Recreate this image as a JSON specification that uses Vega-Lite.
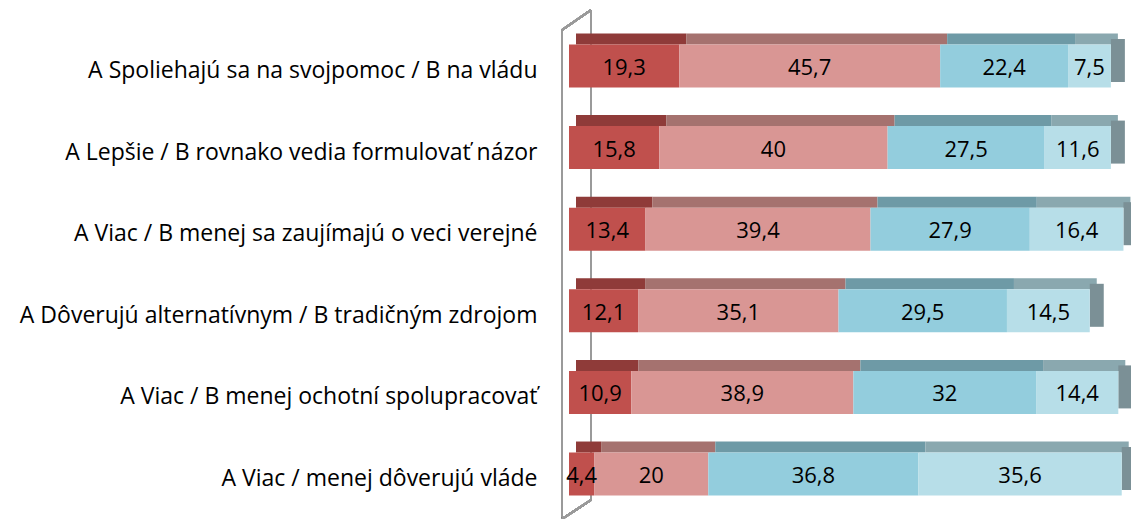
{
  "$schema": "https://vega.github.io/schema/vega-lite/v6.json",
  "autosize": "none",
  "padding": {"left": 569, "top": 20, "right": 0, "bottom": 0},
  "width": 571,
  "height": 500,
  "background": "white",
  "config": {
    "view": {"stroke": null},
    "locale": {"number": {"decimal": ",", "thousands": " ", "grouping": [3], "currency": ["", " €"]}},
    "font": "Open Sans"
  },
  "data": {"values": [
    {"cat": "A Spoliehajú sa na svojpomoc / B na vládu", "seg": 1, "value": 19.3},
    {"cat": "A Spoliehajú sa na svojpomoc / B na vládu", "seg": 2, "value": 45.7},
    {"cat": "A Spoliehajú sa na svojpomoc / B na vládu", "seg": 3, "value": 22.4},
    {"cat": "A Spoliehajú sa na svojpomoc / B na vládu", "seg": 4, "value": 7.5},
    {"cat": "A Lepšie / B rovnako vedia formulovať názor", "seg": 1, "value": 15.8},
    {"cat": "A Lepšie / B rovnako vedia formulovať názor", "seg": 2, "value": 40},
    {"cat": "A Lepšie / B rovnako vedia formulovať názor", "seg": 3, "value": 27.5},
    {"cat": "A Lepšie / B rovnako vedia formulovať názor", "seg": 4, "value": 11.6},
    {"cat": "A Viac / B menej sa zaujímajú o veci verejné", "seg": 1, "value": 13.4},
    {"cat": "A Viac / B menej sa zaujímajú o veci verejné", "seg": 2, "value": 39.4},
    {"cat": "A Viac / B menej sa zaujímajú o veci verejné", "seg": 3, "value": 27.9},
    {"cat": "A Viac / B menej sa zaujímajú o veci verejné", "seg": 4, "value": 16.4},
    {"cat": "A Dôverujú alternatívnym / B tradičným zdrojom", "seg": 1, "value": 12.1},
    {"cat": "A Dôverujú alternatívnym / B tradičným zdrojom", "seg": 2, "value": 35.1},
    {"cat": "A Dôverujú alternatívnym / B tradičným zdrojom", "seg": 3, "value": 29.5},
    {"cat": "A Dôverujú alternatívnym / B tradičným zdrojom", "seg": 4, "value": 14.5},
    {"cat": "A Viac / B menej ochotní spolupracovať", "seg": 1, "value": 10.9},
    {"cat": "A Viac / B menej ochotní spolupracovať", "seg": 2, "value": 38.9},
    {"cat": "A Viac / B menej ochotní spolupracovať", "seg": 3, "value": 32},
    {"cat": "A Viac / B menej ochotní spolupracovať", "seg": 4, "value": 14.4},
    {"cat": "A Viac / menej dôverujú vláde", "seg": 1, "value": 4.4},
    {"cat": "A Viac / menej dôverujú vláde", "seg": 2, "value": 20},
    {"cat": "A Viac / menej dôverujú vláde", "seg": 3, "value": 36.8},
    {"cat": "A Viac / menej dôverujú vláde", "seg": 4, "value": 35.6}
  ]},
  "transform": [
    {"stack": "value", "groupby": ["cat"], "sort": [{"field": "seg", "order": "ascending"}], "as": ["x0", "x1"]},
    {"calculate": "(datum.x0 + datum.x1) / 2", "as": "mid"}
  ],
  "encoding": {
    "y": {
      "field": "cat", "type": "nominal", "sort": null,
      "scale": {
        "domain": [
          "A Spoliehajú sa na svojpomoc / B na vládu",
          "A Lepšie / B rovnako vedia formulovať názor",
          "A Viac / B menej sa zaujímajú o veci verejné",
          "A Dôverujú alternatívnym / B tradičným zdrojom",
          "A Viac / B menej ochotní spolupracovať",
          "A Viac / menej dôverujú vláde"
        ],
        "paddingInner": 0.473, "paddingOuter": 0.3
      },
      "axis": {"title": null, "ticks": false, "domain": false, "labelFontSize": 23, "labelColor": "#000000", "labelPadding": 32, "labelLimit": 600, "labelFont": "Open Sans", "labelOffset": 5}
    }
  },
  "layer": [
    {
      "mark": {"type": "rule", "color": "#9a9a9a", "strokeWidth": 2, "xOffset": -7, "yOffset": -36, "y2Offset": 46},
      "encoding": {
        "x": {"datum": 0, "type": "quantitative", "scale": {"domain": [0, 100], "nice": false}, "axis": null},
        "y": {"datum": "A Spoliehajú sa na svojpomoc / B na vládu", "type": "nominal"},
        "y2": {"datum": "A Viac / menej dôverujú vláde"}
      }
    },
    {
      "mark": {"type": "rule", "color": "#9a9a9a", "strokeWidth": 2, "xOffset": 22, "yOffset": -56, "y2Offset": 26},
      "encoding": {
        "x": {"datum": 0, "type": "quantitative"},
        "y": {"datum": "A Spoliehajú sa na svojpomoc / B na vládu", "type": "nominal"},
        "y2": {"datum": "A Viac / menej dôverujú vláde"}
      }
    },
    {
      "mark": {"type": "rule", "color": "#9a9a9a", "strokeWidth": 2, "xOffset": -7, "x2Offset": 22, "yOffset": -36, "y2Offset": -56},
      "encoding": {
        "x": {"datum": 0, "type": "quantitative"}, "x2": {"datum": 0},
        "y": {"datum": "A Spoliehajú sa na svojpomoc / B na vládu", "type": "nominal"},
        "y2": {"datum": "A Spoliehajú sa na svojpomoc / B na vládu"}
      }
    },
    {
      "mark": {"type": "rule", "color": "#9a9a9a", "strokeWidth": 2, "xOffset": 22, "x2Offset": -7, "yOffset": 26, "y2Offset": 45},
      "encoding": {
        "x": {"datum": 0, "type": "quantitative"}, "x2": {"datum": 0},
        "y": {"datum": "A Viac / menej dôverujú vláde", "type": "nominal"},
        "y2": {"datum": "A Viac / menej dôverujú vláde"}
      }
    },
    {
      "mark": {"type": "bar", "size": 11, "yOffset": -27, "xOffset": 7, "x2Offset": 7},
      "encoding": {
        "x": {"field": "x0", "type": "quantitative"},
        "x2": {"field": "x1"},
        "color": {"field": "seg", "type": "ordinal", "scale": {"domain": [1, 2, 3, 4], "range": ["#8F3B39", "#A5726F", "#6E9AA6", "#8AA8AF"]}, "legend": null}
      }
    },
    {
      "transform": [{"filter": "datum.seg == 4"}],
      "mark": {"type": "bar", "color": "#7B9096", "yOffset": -5.5, "x2Offset": 14},
      "encoding": {
        "x": {"field": "x1", "type": "quantitative"},
        "x2": {"field": "x1"}
      }
    },
    {
      "mark": {"type": "bar"},
      "encoding": {
        "x": {"field": "x0", "type": "quantitative"},
        "x2": {"field": "x1"},
        "fill": {"field": "seg", "type": "ordinal", "scale": {"domain": [1, 2, 3, 4], "range": ["#C0504D", "#D99694", "#93CDDD", "#B7DEE8"]}, "legend": null}
      }
    },
    {
      "mark": {"type": "text", "fontSize": 22, "color": "#000000", "font": "Open Sans", "baseline": "middle", "dy": 2},
      "encoding": {
        "x": {"field": "mid", "type": "quantitative"},
        "text": {"field": "value", "type": "quantitative", "format": ".1~f"}
      }
    }
  ]
}
